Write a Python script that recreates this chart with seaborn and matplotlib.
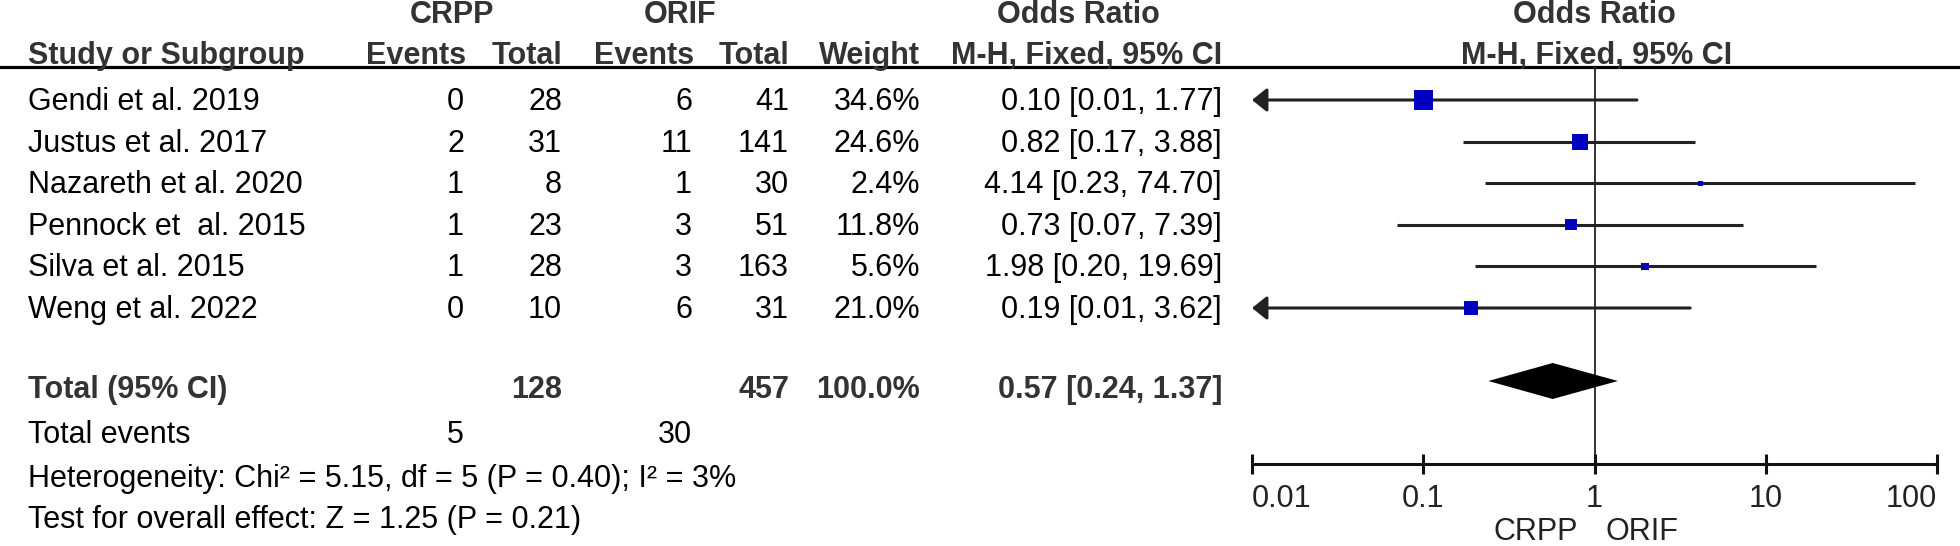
import numpy as np
import pandas as pd
import matplotlib
matplotlib.use('Agg')
import matplotlib.pyplot as plt
import seaborn as sns

# %% data
studies = ['Gendi et al. 2019', 'Justus et al. 2017', 'Nazareth et al. 2020',
           'Pennock et  al. 2015', 'Silva et al. 2015', 'Weng et al. 2022']
crpp_events = [0, 2, 1, 1, 1, 0]
crpp_total = [28, 31, 8, 23, 28, 10]
orif_events = [6, 11, 1, 3, 3, 6]
orif_total = [41, 141, 30, 51, 163, 31]
weights = [34.6, 24.6, 2.4, 11.8, 5.6, 21.0]
odds = [0.10, 0.82, 4.14, 0.73, 1.98, 0.19]
ci_low = [0.01, 0.17, 0.23, 0.07, 0.20, 0.01]
ci_high = [1.77, 3.88, 74.70, 7.39, 19.69, 3.62]

total_crpp = 128
total_orif = 457
total_weight = 100.0
total_or = 0.57
total_low = 0.24
total_high = 1.37
events_crpp = 5
events_orif = 30
hetero_text = 'Heterogeneity: Chi² = 5.15, df = 5 (P = 0.40); I² = 3%'
effect_text = 'Test for overall effect: Z = 1.25 (P = 0.21)'
axis_ticks = [0.01, 0.1, 1, 10, 100]
axis_labels = ['0.01', '0.1', '1', '10', '100']

df = pd.DataFrame({'study': studies, 'or': odds, 'lo': ci_low, 'hi': ci_high,
                   'w': weights})

# %% layout (pixels)
W, H = 1960, 546
row0, step = 100, 41.6
df['y'] = row0 + step * np.arange(len(df))
y_total = 388
y_events = 433
y_het = 477
y_test = 518
y_head1 = 23
y_head2 = 64
y_rule = 67
y_axis = 464
base = 10  # baseline offset from row centre

x_study = 28
x_ce, x_ct, x_oe, x_ot, x_w, x_ci = 464, 562, 692, 789, 920, 1222
fs = 22
dark = '#333333'

sns.set_style('white')
plt.rcParams['font.family'] = ['Liberation Sans', 'DejaVu Sans']

fig = plt.figure(figsize=(19.6, 5.46), dpi=100)
tab = fig.add_axes([0, 0, 1, 1])
tab.set_xlim(0, W)
tab.set_ylim(H, 0)
tab.axis('off')

def txt(x, y, s, ha='right', bold=False, color='black'):
    tab.text(x, y, s, ha=ha, va='baseline', fontsize=fs,
             fontweight='bold' if bold else 'normal',
             color=dark if bold else color)

# headers
txt(452, y_head1, 'CRPP', ha='center', bold=True)
txt(680, y_head1, 'ORIF', ha='center', bold=True)
txt(1078, y_head1, 'Odds Ratio', ha='center', bold=True)
txt(1594, y_head1, 'Odds Ratio', ha='center', bold=True)
txt(x_study, y_head2, 'Study or Subgroup', ha='left', bold=True)
txt(x_ce + 2, y_head2, 'Events', bold=True)
txt(x_ct, y_head2, 'Total', bold=True)
txt(x_oe + 2, y_head2, 'Events', bold=True)
txt(x_ot, y_head2, 'Total', bold=True)
txt(x_w, y_head2, 'Weight', bold=True)
txt(x_ci, y_head2, 'M-H, Fixed, 95% CI', bold=True)
txt(1597, y_head2, 'M-H, Fixed, 95% CI', ha='center', bold=True)
tab.plot([0, W], [y_rule, y_rule], color='black', lw=2.3)

# study rows
for i, r in df.iterrows():
    yb = r['y'] + base
    txt(x_study, yb, r['study'], ha='left')
    txt(x_ce, yb, str(crpp_events[i]))
    txt(x_ct, yb, str(crpp_total[i]))
    txt(x_oe, yb, str(orif_events[i]))
    txt(x_ot, yb, str(orif_total[i]))
    txt(x_w, yb, f'{weights[i]:.1f}%')
    txt(x_ci, yb, f'{odds[i]:.2f} [{ci_low[i]:.2f}, {ci_high[i]:.2f}]')

# totals
txt(x_study, y_total + base, 'Total (95% CI)', ha='left', bold=True)
txt(x_ct, y_total + base, str(total_crpp), bold=True)
txt(x_ot, y_total + base, str(total_orif), bold=True)
txt(x_w, y_total + base, f'{total_weight:.1f}%', bold=True)
txt(x_ci, y_total + base, f'{total_or:.2f} [{total_low:.2f}, {total_high:.2f}]', bold=True)
txt(x_study, y_events + base, 'Total events', ha='left')
txt(x_ce, y_events + base, str(events_crpp))
txt(x_oe, y_events + base, str(events_orif))
txt(x_study, y_het + base, hetero_text, ha='left')
txt(x_study, y_test + base, effect_text, ha='left')

# %% forest panel
x0, x1 = 1252, 1937
ax = fig.add_axes([x0 / W, 0, (x1 - x0) / W, 1])
ax.set_xscale('log')

ax.vlines(1, y_rule, y_axis, color='#222222', lw=1.3, zorder=1)

for _, r in df.iterrows():
    if r['lo'] <= axis_ticks[0]:
        # CI runs past the axis: arrow at the left edge
        ax.annotate('', xy=(axis_ticks[0], r['y']), xytext=(r['hi'], r['y']),
                    arrowprops=dict(arrowstyle='-|>,head_length=0.45,head_width=0.36',
                                    mutation_scale=20, lw=2.2, color='#222222',
                                    shrinkA=0, shrinkB=0), zorder=2)
    else:
        ax.hlines(r['y'], r['lo'], r['hi'], color='#222222', lw=2.2, zorder=2)

sns.scatterplot(data=df, x='or', y='y', marker='s', s=df['w'] * 5.5,
                color='#0000c0', linewidth=0, ax=ax, zorder=3, legend=False)
ax.set_xlim(axis_ticks[0], axis_ticks[-1])
ax.set_ylim(H, 0)
ax.axis('off')

# diamond
yd, hd = y_total - 7, 18
ax.fill([total_low, total_or, total_high, total_or],
        [yd, yd - hd, yd, yd + hd], color='black', lw=0, zorder=3)

# axis
ax.hlines(y_axis, axis_ticks[0], axis_ticks[-1], color='#111111', lw=2.2, clip_on=False)
ax.vlines(axis_ticks, y_axis - 10, y_axis + 10, color='#111111', lw=2.2, clip_on=False)
for k, (t, lab) in enumerate(zip(axis_ticks, axis_labels)):
    ha = 'left' if k == 0 else ('right' if k == len(axis_ticks) - 1 else 'center')
    ax.text(t, 507, lab, ha=ha, va='baseline', fontsize=fs, color='#222222', clip_on=False)
ax.annotate('CRPP', xy=(1, 540), xytext=(-12, 0), textcoords='offset points',
            ha='right', va='baseline', fontsize=fs, color='#222222', annotation_clip=False)
ax.annotate('ORIF', xy=(1, 540), xytext=(8, 0), textcoords='offset points',
            ha='left', va='baseline', fontsize=fs, color='#222222', annotation_clip=False)

fig.savefig('out.png', dpi=100)
